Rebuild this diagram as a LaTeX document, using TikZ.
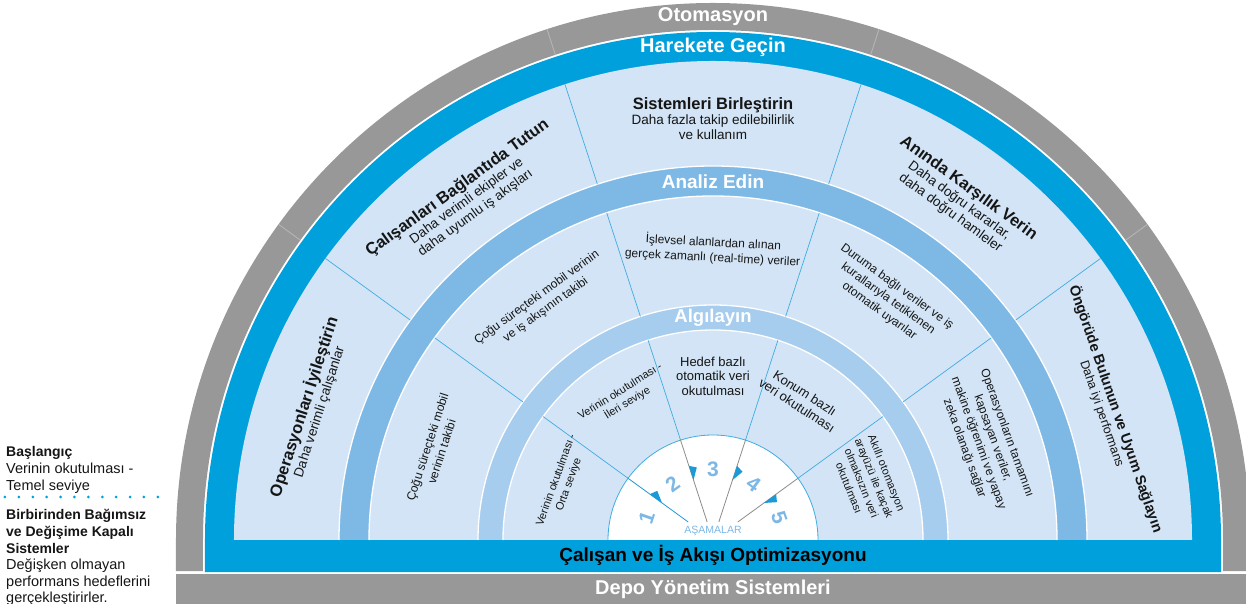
\documentclass[tikz,border=0pt]{standalone}
\usepackage{fontspec}
\setmainfont{Liberation Sans}
\usetikzlibrary{calc}
\definecolor{grayc}{HTML}{989898}
\definecolor{graydiv}{HTML}{B8B8B8}
\definecolor{bluec}{HTML}{00A0DC}
\definecolor{lightc}{HTML}{D2E4F5}
\definecolor{medc}{HTML}{7EB9E6}
\definecolor{algc}{HTML}{A6CCEE}
\definecolor{linec}{HTML}{41ACE2}
\definecolor{stageblue}{HTML}{1C9AD6}
\definecolor{stagegray}{HTML}{8C8C8C}
\definecolor{numc}{HTML}{7CB7E6}
\definecolor{txtc}{HTML}{151515}
\tikzset{
  divline/.style={linec,line width=0.7},
  bandlbl/.style={text=white,inner sep=0pt},
  ttl/.style={text=txtc,align=center,inner sep=0pt,font=\fontsize{13.5}{15}\selectfont},
  midtxt/.style={text=txtc,align=center,inner sep=0pt,font=\fontsize{12}{15}\selectfont},
  intxt/.style={text=txtc,align=center,inner sep=0pt,font=\fontsize{13}{14.5}\selectfont},
  insmall/.style={text=txtc,align=center,inner sep=0pt,font=\fontsize{11}{13.5}\selectfont},
  numlbl/.style={text=numc,inner sep=0pt,font=\bfseries\fontsize{21}{21}\selectfont},
  lreg/.style={anchor=base west,inner sep=0pt,text=txtc,font=\fontsize{14.5}{17}\selectfont},
  lbold/.style={anchor=base west,inner sep=0pt,text=txtc,font=\bfseries\fontsize{14}{17}\selectfont}
}
\newcommand{\TT}[1]{{\bfseries\fontsize{16.5}{18}\selectfont #1}}
\newcommand{\TTs}[1]{{\bfseries\fontsize{14.5}{16}\selectfont #1}}
\begin{document}
\begin{tikzpicture}[x=1pt,y=1pt]
\useasboundingbox (-713,-64) rectangle (533,540);
% gray outer ring
\fill[grayc] (-537,-31) -- (-537,0) arc[start angle=180,end angle=0,radius=537] -- (537,-31) -- (510,-31) -- (510,0) arc[start angle=0,end angle=180,radius=510] -- (-510,-31) -- cycle;
\foreach \a in {36,72,108,144} \draw[graydiv,line width=0.8] (\a:510) -- (\a:537);
\fill[grayc] (-537,-33.5) rectangle (537,-66);
% blue ring and bar
\fill[bluec] (-508,-32) -- (-508,0) arc[start angle=180,end angle=0,radius=508] -- (508,-32) -- cycle;
% inner regions
\fill[lightc] (-479,0) arc[start angle=180,end angle=0,radius=479] -- cycle;
\fill[medc] (-374,0) arc[start angle=180,end angle=0,radius=374] -- cycle;
\fill[lightc] (-344,0) arc[start angle=180,end angle=0,radius=344] -- cycle;
\fill[algc] (-235,0) arc[start angle=180,end angle=0,radius=235] -- cycle;
\fill[lightc] (-210,0) arc[start angle=180,end angle=0,radius=210] -- cycle;
\fill[white] (-105,0) arc[start angle=180,end angle=0,radius=105] -- cycle;
\foreach \r in {374,344,235,210} \draw[white,line width=1.3] (-\r,0) arc[start angle=180,end angle=0,radius=\r];
\draw[linec,line width=0.8] (-105,0) arc[start angle=180,end angle=0,radius=105];
% dividers
\foreach \a in {36,72,108,144}{
  \draw[divline] (\a:374) -- (\a:479);
  \draw[divline] (\a:235) -- (\a:344);
  \draw[divline] (\a:105) -- (\a:210);
}
% stage lines
\draw[stageblue,line width=0.8] (144:30.6) -- (144:105);
\draw[stagegray,line width=0.8] (108:18.9) -- (108:105);
\draw[stagegray,line width=0.8] (72:18.9) -- (72:105);
\draw[stagegray,line width=0.8] (36:30.6) -- (36:105);
\foreach \a in {144,108,72,36}
  \fill[stageblue] (\a:63) -- (\a:78) -- ($(\a:74)+(\a-90:7)$) -- cycle;
% stage numbers
\node[numlbl,rotate=71] (n1) at (161:70) {1};
\node[numlbl,rotate=36] (n2) at (126:69) {2};
\node[numlbl] (n3) at (90:71) {3};
\node[numlbl,rotate=-36] (n4) at (54:69) {4};
\node[numlbl,rotate=-71] (n5) at (19:70) {5};
\node[text=numc,inner sep=0pt,font=\fontsize{10.5}{11}\selectfont] (asm) at (0,9) {AŞAMALAR};
% band labels
\node[bandlbl,font=\bfseries\fontsize{20}{20}\selectfont] (oto) at (0,523) {Otomasyon};
\node[bandlbl,font=\bfseries\fontsize{20}{20}\selectfont] (har) at (0,493) {Harekete Geçin};
\node[bandlbl,font=\bfseries\fontsize{19}{19}\selectfont] (ana) at (0,358) {Analiz Edin};
\node[bandlbl,font=\bfseries\fontsize{18.5}{18.5}\selectfont] (alg) at (0,222) {Algılayın};
\node[inner sep=0pt,text=black,font=\bfseries\fontsize{19}{19}\selectfont] (cal) at (0,-15) {Çalışan ve İş Akışı Optimizasyonu};
\node[bandlbl,font=\bfseries\fontsize{20}{20}\selectfont] (depo) at (0,-49) {Depo Yönetim Sistemleri};
% outer sections
\node[ttl,rotate=72] (o1) at (162:423) {\TT{Operasyonları İyileştirin}\\Daha verimli çalışanlar};
\node[ttl,rotate=36] (o2) at (126:420) {\TT{Çalışanları Bağlantıda Tutun}\\Daha verimli ekipler ve\\daha uyumlu iş akışları};
\node[ttl] (o3) at (90:421) {\TT{Sistemleri Birleştirin}\\Daha fazla takip edilebilirlik\\ve kullanım};
\node[ttl,rotate=-36] (o4) at (54:420) {\TT{Anında Karşılık Verin}\\Daha doğru kararlar,\\daha doğru hamleler};
\node[ttl,rotate=-71,font=\fontsize{12.5}{14}\selectfont] (o5) at (18:417) {\TTs{Öngörüde Bulunun ve Uyum Sağlayın}\\Daha iyi performans};
% middle sections
\node[midtxt,rotate=72] (m1) at (162:293) {Çoğu süreçteki mobil\\verinin takibi};
\node[midtxt,rotate=36] (m2) at (126:292) {Çoğu süreçteki mobil verinin\\ve iş akışının takibi};
\node[midtxt,rotate=-3] (m3) at (90:290) {İşlevsel alanlardan alınan\\gerçek zamanlı (real-time) veriler};
\node[midtxt,rotate=-36] (m4) at (54:298) {Duruma bağlı veriler ve iş\\kurallarıyla tetiklenen\\otomatik uyarılar};
\node[midtxt,rotate=-70] (m5) at (20:290) {Operasyonların tamamını\\kapsayan veriler,\\makine öğrenimi ve yapay\\zeka olanağı sağlar};
% inner sections
\node[insmall,rotate=70] (i1) at (159:161) {Verinin okutulması -\\Orta seviye};
\node[insmall,rotate=32] (i2) at (122:168) {Verinin okutulması -\\İleri seviye};
\node[intxt] (i3) at (90:164) {Hedef bazlı\\otomatik veri\\okutulması};
\node[intxt,rotate=-33] (i4) at (58:166) {Konum bazlı\\veri okutulması};
\node[insmall,rotate=-68] (i5) at (21:166) {Akıllı otomasyon\\arayüzü ile kaçak\\olmaksızın veri\\okutulması};
% left legend
\node[lbold] (l1) at (-707,83) {Başlangıç};
\node[lreg] (l2) at (-707,66) {Verinin okutulması -};
\node[lreg] (l3) at (-707,49) {Temel seviye};
\foreach \i in {0,...,11} \fill[bluec] (-708+\i*13.9,43) circle (1.5);
\node[lbold] (l4) at (-707,20) {Birbirinden Bağımsız};
\node[lbold] (l5) at (-707,3) {ve Değişime Kapalı};
\node[lbold] (l6) at (-707,-13.5) {Sistemler};
\node[lreg] (l7) at (-707,-30) {Değişken olmayan};
\node[lreg] (l8) at (-707,-46.5) {performans hedeflerini};
\node[lreg] (l9) at (-707,-62.5) {gerçekleştirirler.};
\end{tikzpicture}
\end{document}
